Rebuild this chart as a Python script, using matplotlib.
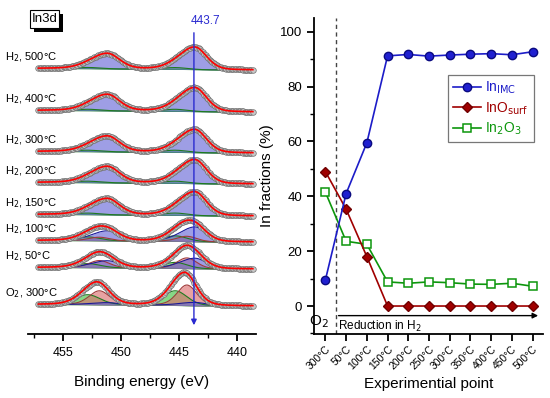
import numpy as np
import matplotlib
matplotlib.use('Agg')
import matplotlib.pyplot as plt
from matplotlib.patches import Rectangle

plt.rcParams['font.family'] = ['Liberation Sans', 'DejaVu Sans']

# ---- right panel data (In fractions, %) ----
points = ['300°C', '50°C', '100°C', '150°C', '200°C', '250°C', '300°C',
          '350°C', '400°C', '450°C', '500°C']
in_imc = [9.5, 41.0, 59.5, 91.2, 91.7, 91.1, 91.5, 91.8, 92.0, 91.6, 92.7]
in_osurf = [49.0, 35.3, 18.0, 0, 0, 0, 0, 0, 0, 0, 0]
in2o3 = [41.5, 23.6, 22.5, 8.8, 8.3, 8.8, 8.5, 8.0, 7.9, 8.3, 7.2]

# ---- left panel: In3d spectra, top to bottom ----
spec_labels = ['H$_2$, 500°C', 'H$_2$, 400°C', 'H$_2$, 300°C', 'H$_2$, 200°C',
               'H$_2$, 150°C', 'H$_2$, 100°C', 'H$_2$, 50°C', 'O$_2$, 300°C']
spec_point = [10, 8, 6, 4, 3, 2, 1, 0]          # index into the fraction lists
spec_scale = [56, 60, 58, 60, 60, 58, 60, 84]   # overall intensity
spec_offset = [264, 222, 181, 150, 118, 92, 65, 28]

# component 3d5/2 positions (eV) and FWHM (eV)
be_imc, be_surf, be_ox = 443.6, 444.3, 445.3
fw_imc, fw_surf, fw_ox = 2.35, 2.0, 2.4
so_split = 7.54
so_ratio = 0.68
marker_be = 443.7


def pv(x, c, w, asym=1.0, eta=0.25):
    ww = np.where(x > c, w * asym, w)
    g = np.exp(-4 * np.log(2) * ((x - c) / ww) ** 2)
    l = 1.0 / (1 + 4 * ((x - c) / ww) ** 2)
    return (1 - eta) * g + eta * l


def doublet(x, c, w, asym=1.0):
    return pv(x, c, w, asym) + so_ratio * pv(x, c + so_split, w * 1.05, asym)


fig = plt.figure(figsize=(5.5, 3.98), dpi=100)

# ================= left panel =================
ax = fig.add_axes([28 / 550, 1 - 334 / 398, 228 / 550, 334 / 398])
ax.set_xlim(458.0, 438.35)
ax.set_ylim(0, 334)
for s in ['top', 'right', 'left']:
    ax.spines[s].set_visible(False)
ax.spines['bottom'].set_linewidth(1.3)
ax.set_yticks([])
ax.set_xticks([455, 450, 445, 440])
ax.set_xticks([457.5, 452.5, 447.5, 442.5], minor=True)
ax.tick_params(axis='x', which='major', length=5, width=1.3, labelsize=9, pad=4)
ax.tick_params(axis='x', which='minor', length=3, width=1.0)
ax.set_xlabel('Binding energy (eV)', fontsize=11, labelpad=12)

x = np.arange(457.1, 438.55, -0.12)
for lab, pi, sc, off in zip(spec_labels, spec_point, spec_scale, spec_offset):
    f_imc = in_imc[pi] / 100
    f_surf = in_osurf[pi] / 100
    f_ox = in2o3[pi] / 100
    c_imc = sc * f_imc / fw_imc * doublet(x, be_imc, fw_imc, 1.3)
    c_surf = sc * f_surf / fw_surf * doublet(x, be_surf, fw_surf)
    c_ox = sc * f_ox / fw_ox * doublet(x, be_ox, fw_ox)
    tot = c_imc + c_surf + c_ox
    # shirley-like step, higher on the high BE side
    cum = np.cumsum(tot[::-1])[::-1]
    bg = off + 1.5 * cum / cum[0]
    ax.plot(x, bg, color='#0a6a0a', lw=0.9, zorder=2)
    comps = [(c_ox, '#45c445', '#1f7a1f', f_ox),
             (c_surf, '#dd7070', '#a03a3a', f_surf),
             (c_imc, '#6a6ad8', '#1a1a9a', f_imc)]
    for comp, fc, ec, fr in comps:
        if fr <= 0:
            continue
        ax.fill_between(x, bg, bg + comp, color=fc, alpha=0.65, lw=0, zorder=2)
        ax.plot(x, bg + comp, color=ec, lw=0.8, zorder=3)
    ax.plot(x, bg + tot, 'o', ms=4, mfc='#c8c8c8', mec='#707070', mew=0.5,
            zorder=4)
    ax.plot(x, bg + tot, color='red', lw=1.2, zorder=5)
    fig.text(5 / 550, 1 - (334 - off - 13) / 398, lab, fontsize=8,
             ha='left', va='center')

ax.annotate('', xy=(marker_be, 6), xytext=(marker_be, 304),
            arrowprops=dict(arrowstyle='-|>', color='#2a2ad0', lw=1.0,
                            mutation_scale=8), zorder=6)
ax.text(marker_be + 0.25, 313, '443.7', color='#2a2ad0', fontsize=8.5,
        ha='left', va='center')

# In3d box with shadow
fig.add_artist(Rectangle((34 / 550, 1 - 32 / 398), 29 / 550, 18 / 398,
                         transform=fig.transFigure, fc='black', ec='none'))
fig.add_artist(Rectangle((30 / 550, 1 - 28 / 398), 29 / 550, 18 / 398,
                         transform=fig.transFigure, fc='white', ec='black',
                         lw=0.8))
fig.text(44.5 / 550, 1 - 19 / 398, 'In3d', fontsize=9.5, color='black',
         ha='center', va='center')

# ================= right panel =================
ax2 = fig.add_axes([314 / 550, 1 - 334 / 398, 229 / 550, 316 / 398])
xi = np.arange(len(points))
ax2.plot(xi, in_imc, '-o', color='#1c1cc8', mfc='#2020d0', mec='#0a0a80',
         ms=6, lw=1.2, label='In$_{\\rm IMC}$', zorder=5)
ax2.plot(xi, in_osurf, '-D', color='#a00000', mfc='#a00000', mec='#700000',
         ms=5, lw=1.2, label='InO$_{\\rm surf}$', zorder=4)
ax2.plot(xi, in2o3, '-s', color='#0c960c', mfc='white', mec='#0c960c',
         ms=5.5, mew=1.1, lw=1.2, label='In$_2$O$_3$', zorder=3)

ax2.set_xlim(-0.55, 10.5)
ax2.set_ylim(-10.2, 105)
for s in ['top', 'right']:
    ax2.spines[s].set_visible(False)
for s in ['left', 'bottom']:
    ax2.spines[s].set_linewidth(1.3)
ax2.set_yticks([0, 20, 40, 60, 80, 100])
ax2.set_yticks(np.arange(-10, 105, 10), minor=True)
ax2.set_xticks(xi)
ax2.set_xticklabels(points, rotation=45, ha='right', rotation_mode='anchor',
                    fontsize=7.5)
ax2.tick_params(axis='y', which='major', length=5, width=1.3, labelsize=9.5)
ax2.tick_params(axis='y', which='minor', length=3, width=1.0)
ax2.tick_params(axis='x', which='major', length=5, width=1.3, pad=2)
ax2.set_ylabel('In fractions (%)', fontsize=11, labelpad=4)
ax2.set_xlabel('Experimential point', fontsize=11, labelpad=4)

ax2.axvline(0.5, color='#444444', ls='--', lw=1.0, dashes=(3, 2.5), zorder=1)
ax2.annotate('', xy=(10.4, -3.5), xytext=(0.5, -3.5),
             arrowprops=dict(arrowstyle='-|>', color='black', lw=1.0,
                             mutation_scale=8))
ax2.text(-0.3, -5.8, 'O$_2$', fontsize=11, ha='center', va='center')
ax2.text(0.6, -7.3, 'Reduction in H$_2$', fontsize=8.5, ha='left', va='center')

leg = ax2.legend(loc='upper left', bbox_to_anchor=(0.585, 0.82), fontsize=10,
                 labelcolor='linecolor', frameon=True, fancybox=False,
                 edgecolor='#555555', handlelength=2.0, borderpad=0.35,
                 labelspacing=0.3, handletextpad=0.35, borderaxespad=0)
leg.get_frame().set_linewidth(0.9)

fig.savefig('out.png', dpi=100)
